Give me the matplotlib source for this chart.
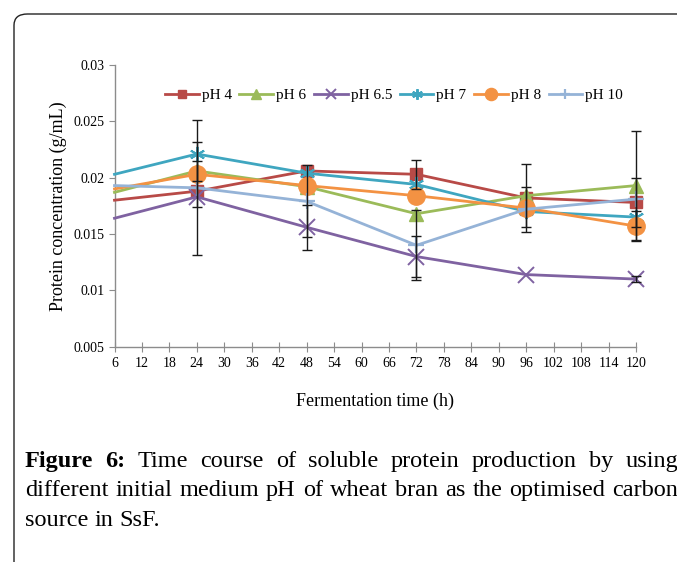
import numpy as np
import matplotlib
matplotlib.use("Agg")
import matplotlib.pyplot as plt
from matplotlib.patches import FancyBboxPatch

# ---- data ----
hours = [6, 24, 48, 72, 96, 120]
series_names = ["pH 4", "pH 6", "pH 6.5", "pH 7", "pH 8", "pH 10"]
ph4 = [0.0180, 0.0188, 0.0206, 0.0203, 0.0182, 0.0178]
ph6 = [0.0187, 0.0206, 0.0192, 0.0168, 0.0184, 0.0193]
ph65 = [0.0164, 0.0183, 0.0156, 0.0130, 0.0114, 0.0110]
ph7 = [0.0203, 0.0221, 0.0204, 0.0194, 0.0170, 0.0165]
ph8 = [0.0190, 0.0203, 0.0193, 0.0184, 0.0173, 0.0157]
ph10 = [0.0193, 0.0191, 0.0179, 0.0140, 0.0172, 0.0181]

err4 = [0, 0, 0, 0.0013, 0, 0.0022]
err6 = [0, 0.0009, 0, 0, 0.0028, 0.0048]
err65 = [0, 0, 0.0020, 0.0018, 0, 0.0003]
err7 = [0, 0, 0, 0, 0, 0]
err8 = [0, 0.0029, 0, 0, 0, 0.0013]
err10 = [0, 0.0060, 0.0032, 0.0031, 0.0020, 0]

xticks = list(range(6, 121, 6))
yticks = [0.005, 0.01, 0.015, 0.02, 0.025, 0.03]
ytick_labels = ["0.005", "0.01", "0.015", "0.02", "0.025", "0.03"]

values = [ph4, ph6, ph65, ph7, ph8, ph10]
errors = [err4, err6, err65, err7, err8, err10]
colors = ["#B84A47", "#9BBB59", "#7F62A1", "#3FA6C0", "#F39243", "#95B3D7"]
markers = ["s", "^", "x", (6, 2, 0), "o", "+"]
msizes = [9, 10.5, 11, 11, 12.5, 11]
mews = [1, 1, 1.4, 1.4, 1, 1.6]

plt.rcParams["font.family"] = ["Liberation Serif", "DejaVu Serif"]

W, H = 677, 562
fig = plt.figure(figsize=(W / 100, H / 100), dpi=100)

# open frame (left/top edges with rounded corner)
frame = FancyBboxPatch((14 / W, -0.2), 1.2, (H - 14) / H + 0.2,
                       boxstyle="round,pad=0,rounding_size=0.02",
                       transform=fig.transFigure, fill=False,
                       edgecolor="#222222", linewidth=1.0, clip_on=False)
fig.patches.append(frame)

ax = fig.add_axes([114.5 / W, 1 - 346.7 / H, (636 - 114.5) / W, (346.7 - 65) / H])

for name, v, e, c, m, ms, mew in zip(series_names, values, errors, colors, markers, msizes, mews):
    ax.plot(hours, v, color=c, lw=2.0, marker=m, markersize=ms,
            markerfacecolor=c, markeredgecolor=c, markeredgewidth=mew,
            markevery=slice(1, None),
            label=name, zorder=3, clip_on=False)
    idx = [i for i, ee in enumerate(e) if ee > 0]
    if idx:
        eb = ax.errorbar([hours[i] for i in idx], [v[i] for i in idx],
                         yerr=[e[i] for i in idx], fmt="none", ecolor="#1a1a1a",
                         elinewidth=1.0, capsize=3.5, capthick=1.0, zorder=4)
        for art in eb.get_children():
            art.set_clip_on(False)

ax.set_xlim(6, 120)
ax.set_ylim(0.005, 0.03)
ax.set_xticks(xticks)
ax.set_xticklabels([str(t) for t in xticks], fontsize=10)
ax.set_yticks(yticks)
ax.set_yticklabels(ytick_labels, fontsize=10)
for s in ["top", "right"]:
    ax.spines[s].set_visible(False)
for s in ["left", "bottom"]:
    ax.spines[s].set_color("#8c8c8c")
    ax.spines[s].set_linewidth(1.0)
ax.tick_params(axis="x", direction="inout", length=7, color="#8c8c8c", pad=4)
ax.tick_params(axis="y", direction="out", length=4, color="#8c8c8c", pad=3)

ax.set_xlabel("Fermentation time (h)", fontsize=13, labelpad=16)
ax.set_ylabel("Protein concentration (g/mL)", fontsize=13, labelpad=5)

leg = ax.legend(loc="center", bbox_to_anchor=(0.536, 0.893), ncol=6, frameon=False,
                fontsize=11, handlelength=2.2, handletextpad=0.2, columnspacing=0.5,
                markerscale=0.7, borderaxespad=0)

# ---- justified caption ----
cap_lines = [
    ([("Figure", True), ("6:", True), ("Time", False), ("course", False), ("of", False),
      ("soluble", False), ("protein", False), ("production", False), ("by", False),
      ("using", False)], True, 467),
    ([(w, False) for w in "different initial medium pH of wheat bran as the optimised carbon".split()], True, 496),
    ([(w, False) for w in "source in SsF.".split()], False, 526),
]
cap_fs = 17.5
left_px, right_px = 25, 678
fig.canvas.draw()
renderer = fig.canvas.get_renderer()
m1 = fig.text(0, 0, "a a", fontsize=cap_fs)
m2 = fig.text(0, 0, "aa", fontsize=cap_fs)
space_w = m1.get_window_extent(renderer).width - m2.get_window_extent(renderer).width
m1.remove()
m2.remove()
for words, justify, ybase in cap_lines:
    texts = []
    for w, b in words:
        t = fig.text(0, 1 - ybase / H, w, fontsize=cap_fs,
                     fontweight="bold" if b else "normal", va="baseline", ha="left")
        texts.append(t)
    widths = [t.get_window_extent(renderer).width for t in texts]
    if justify:
        gap = (right_px - left_px - sum(widths)) / (len(words) - 1)
    else:
        gap = space_w
    x = left_px
    for t, wdt in zip(texts, widths):
        t.set_x(x / W)
        x += wdt + gap

fig.savefig("out.png", dpi=100)
